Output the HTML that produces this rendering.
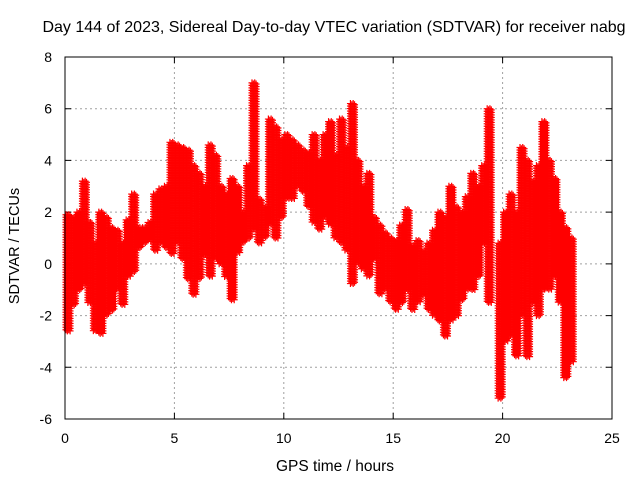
<!DOCTYPE html>
<html><head><meta charset="utf-8"><style>
body{margin:0;background:#fff}
svg{display:block;font-family:"Liberation Sans",sans-serif}
</style></head><body>
<svg id="chart" width="640" height="480">
<rect width="640" height="480" fill="#fff"/>
<text x="334" y="32" text-anchor="middle" font-size="16">Day 144 of 2023, Sidereal Day-to-day VTEC variation (SDTVAR) for receiver nabg</text>
<text x="335" y="471" text-anchor="middle" font-size="15.5">GPS time / hours</text>
<text x="0" y="0" transform="translate(19,246) rotate(-90)" text-anchor="middle" font-size="14.5">SDTVAR / TECUs</text>
<g id="grid"></g><g id="axes"></g><g id="marks"></g>
<rect x="65" y="57" width="547" height="362" fill="none" stroke="#000" stroke-width="1"/>
</svg>
<script>
const xTicks=[0,5,10,15,20,25];
const yTicks=[-6,-4,-2,0,2,4,6,8];
const binStart=[0,0.25,0.5,0.75,1,1.25,1.5,1.75,2,2.25,2.5,2.75,3,3.25,3.5,3.75,4,4.25,4.5,4.75,5,5.25,5.5,5.75,6,6.25,6.5,6.75,7,7.25,7.5,7.75,8,8.25,8.5,8.75,9,9.25,9.5,9.75,10,10.25,10.5,10.75,11,11.25,11.5,11.75,12,12.25,12.5,12.75,13,13.25,13.5,13.75,14,14.25,14.5,14.75,15,15.25,15.5,15.75,16,16.25,16.5,16.75,17,17.25,17.5,17.75,18,18.25,18.5,18.75,19,19.25,19.75,20,20.25,20.5,20.75,21,21.25,21.5,21.75,22,22.25,22.5,22.75,23];
const binMin=[-2.6,-1.6,-1.0,-0.8,-1.5,-2.6,-2.7,-2.0,-1.8,-1.0,-1.6,-0.5,-0.3,0.6,0.8,0.9,0.5,0.8,0.6,0.4,0.8,0.2,-0.6,-1.2,-0.6,0.3,-0.5,0.2,0.0,-0.5,-1.4,0.4,0.8,1.0,1.3,0.8,1.0,1.5,1.0,1.8,2.5,2.5,3.0,2.8,2.2,1.6,1.3,1.8,1.5,1.0,0.8,0.5,-0.8,0.0,-0.2,-0.5,0.2,-1.2,-1.0,-1.5,-1.8,-1.5,-1.0,-1.8,-1.5,-1.2,-1.8,-2.0,-2.2,-2.8,-2.2,-2.0,-1.4,-1.0,-1.0,-0.5,0.8,-1.5,-5.2,-3.0,-2.8,-3.6,-2.0,-3.6,-1.5,-2.0,-1.0,-1.0,-0.5,-1.5,-4.4,-3.8];
const binMax=[1.9,1.8,2.0,3.2,1.6,0.8,2.0,1.8,1.4,1.3,0.8,1.7,2.7,1.4,1.4,1.6,2.7,2.9,3.0,4.7,4.6,4.5,4.4,3.8,3.5,3.0,4.6,4.2,3.0,2.7,3.3,3.0,2.0,3.8,7.0,2.5,2.2,5.6,5.3,4.8,5.0,4.8,4.6,4.4,4.3,5.0,4.0,5.0,5.5,4.2,5.6,4.5,6.2,4.0,3.0,3.5,1.8,1.5,1.2,1.0,0.9,1.5,2.1,0.7,0.9,0.5,0.8,1.3,2.0,1.8,3.0,2.2,2.0,2.6,3.5,3.0,3.8,6.0,0.8,2.0,2.7,2.0,4.5,4.0,3.2,3.8,5.5,4.0,3.3,2.0,1.4,1.0];
const X0=65,X1=612,Y0=419,Y1=57;
const xs=t=>X0+(t-0)/(25-0)*(X1-X0);
const ys=v=>Y0-(v+6)/(8+6)*(Y0-Y1);
const NS="http://www.w3.org/2000/svg";
const grid=document.getElementById('grid'),axes=document.getElementById('axes'),marks=document.getElementById('marks');
function mk(tag,attrs,parent){const e=document.createElementNS(NS,tag);for(const k in attrs)e.setAttribute(k,attrs[k]);parent.appendChild(e);return e;}
xTicks.forEach(t=>{
  const x=xs(t);
  if(t>0&&t<25){const g=mk('line',{x1:x,x2:x,y1:Y1,y2:Y0,stroke:'#a0a0a0','stroke-dasharray':'2,3'},grid);
  
  }
  const tk=mk('path',{d:`M${x},${Y0}v-6M${x},${Y1}v6`,stroke:'#000'},axes);
  
  
  const l=mk('text',{x:x,y:Y0+24,'text-anchor':'middle','font-size':14},axes);l.textContent=t;
  
  
});
yTicks.forEach(v=>{
  const y=ys(v);
  if(v>-6&&v<8){const g=mk('line',{x1:X0,x2:X1,y1:y,y2:y,stroke:'#a0a0a0','stroke-dasharray':'2,3'},grid);
  
  }
  const tk=mk('path',{d:`M${X0},${y}h6M${X1},${y}h-6`,stroke:'#000'},axes);
  
  
  const l=mk('text',{x:52,y:y+5,'text-anchor':'end','font-size':14},axes);l.textContent=v;
  
  
});
binStart.forEach((t,i)=>{
  let d='';
  const yTop=ys(binMax[i]),yBot=ys(binMin[i]);
  [0,0.0625,0.125,0.1875].forEach((off,k)=>{
    const x=xs(t+off)+1;
    for(let y=yTop+(k%2)*1.2;y<=yBot+0.1;y+=2.5){d+=`M${x-3.5},${y}h7M${x},${y-3.5}v7`;}
  });
  const p=mk('path',{d:d,stroke:'#ff0000','stroke-width':1.2,fill:'none'},marks);
  
  
});
</script>
</body></html>
